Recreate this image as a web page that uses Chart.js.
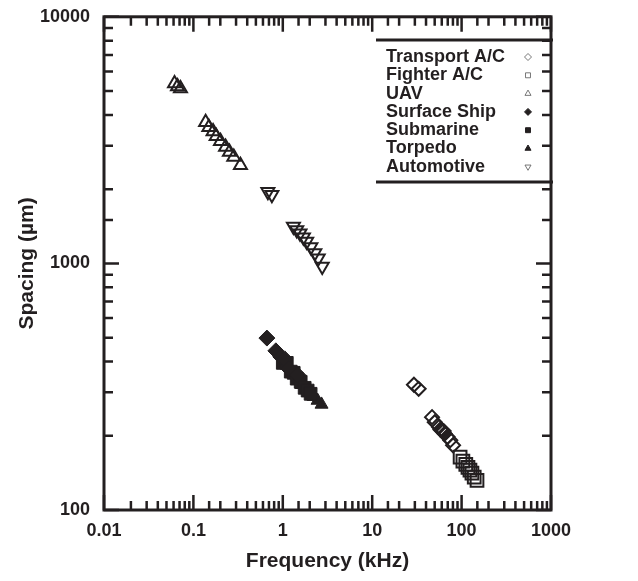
<!DOCTYPE html>
<html>
<head>
<meta charset="utf-8">
<script src="https://cdn.jsdelivr.net/npm/chart.js@4.4.0/dist/chart.umd.js"></script>
<style>
  html, body { margin: 0; padding: 0; background: #fff; }
  #wrap { width: 638px; height: 581px; }
</style>
</head>
<body>
<div id="wrap"><canvas id="chart"></canvas></div>
<script>
// valores (frequência em kHz, espaçamento em µm)
const transportFreq = [29.3, 33.1, 46.7, 50.1, 55.9, 58.0, 60.1, 63.0, 64.7, 69.6, 74.7, 80.3];
const transportSpacing = [322, 310, 238, 227, 217, 212, 210, 209, 204, 198, 192, 183];

const fighterFreq = [96.2, 103.4, 111.4, 117.8, 124, 130.5, 138.4, 148.7];
const fighterSpacing = [164, 158, 153, 149, 145, 141, 136, 132];

const uavFreq = [0.0615, 0.0664, 0.0717, 0.137, 0.149, 0.166, 0.180, 0.201, 0.229, 0.253, 0.283, 0.336];
const uavSpacing = [5367, 5220, 5125, 3740, 3565, 3425, 3280, 3125, 2965, 2830, 2700, 2500];

const shipFreq = [0.664, 0.836, 0.950, 1.052, 1.166, 1.468];
const shipSpacing = [498, 442, 418, 410, 374, 353];

const subFreq = [1.0, 1.108, 1.227, 1.324, 1.431, 1.585, 1.756, 1.896, 2.047];
const subSpacing = [395, 395, 364, 360, 341, 331, 313, 305, 296];

const torpedoFreq = [1.626, 2.21, 2.448, 2.712];
const torpedoSpacing = [322, 288, 278, 268];

const autoFreq = [0.681, 0.755, 1.315, 1.432, 1.557, 1.70, 1.849, 2.06, 2.28, 2.49, 2.76];
const autoSpacing = [1951, 1897, 1410, 1367, 1325, 1276, 1228, 1165, 1102, 1050, 972];

const seriesNames = ['Transport A/C', 'Fighter A/C', 'UAV', 'Surface Ship', 'Submarine', 'Torpedo', 'Automotive'];

const ink = '#231f20';
const fontFamily = '"Liberation Sans", Arial, Helvetica, sans-serif';

function pts(xs, ys) {
    return xs.map((v, i) => ({ x: v, y: ys[i] }));
}

function isDecade(v) {
    const l = Math.log10(v);
    return Math.abs(l - Math.round(l)) < 1e-6;
}

// estilo de cada marcador (aberto / cheio)
function serie(label, xs, ys, style, radius, filled, rotation) {
    return {
        label: label,
        data: pts(xs, ys),
        filled: filled,
        pointStyle: style,
        pointRadius: radius,
        pointRotation: rotation || 0,
        pointBorderWidth: filled ? 1 : 2,
        borderWidth: filled ? 1 : 2,
        borderColor: ink,
        pointBorderColor: ink,
        backgroundColor: filled ? ink : 'rgba(0,0,0,0)',
        pointBackgroundColor: filled ? ink : 'rgba(0,0,0,0)',
        showLine: false
    };
}

// moldura com ticks para dentro nos quatro lados
const framePlugin = {
    id: 'frame',
    beforeDatasetsDraw(chart) {
        const { ctx, chartArea: a, scales: { x, y } } = chart;
        ctx.save();
        ctx.strokeStyle = ink;
        ctx.lineWidth = 2.5;
        ctx.beginPath();
        x.ticks.forEach(t => {
            const px = x.getPixelForValue(t.value);
            const len = isDecade(t.value) ? 15 : 9;
            ctx.moveTo(px, a.bottom); ctx.lineTo(px, a.bottom - len);
            ctx.moveTo(px, a.top); ctx.lineTo(px, a.top + len);
        });
        y.ticks.forEach(t => {
            const py = y.getPixelForValue(t.value);
            const len = isDecade(t.value) ? 15 : 9;
            ctx.moveTo(a.left, py); ctx.lineTo(a.left + len, py);
            ctx.moveTo(a.right, py); ctx.lineTo(a.right - len, py);
        });
        ctx.stroke();
        ctx.lineWidth = 3;
        ctx.strokeRect(a.left, a.top, a.right - a.left, a.bottom - a.top);
        ctx.restore();
    }
};

// legenda dentro da área do gráfico: texto à esquerda, símbolo à direita
const legendPlugin = {
    id: 'boxLegend',
    afterDatasetsDraw(chart) {
        const ctx = chart.ctx;
        const x0 = 376, x1 = 553, yTop = 40, yBottom = 182;
        ctx.save();
        ctx.strokeStyle = ink;
        ctx.lineWidth = 3;
        ctx.beginPath();
        ctx.moveTo(x0, yTop); ctx.lineTo(x1, yTop);
        ctx.moveTo(x0, yBottom); ctx.lineTo(x1, yBottom);
        ctx.stroke();

        ctx.font = 'bold 18px ' + fontFamily;
        ctx.textBaseline = 'middle';
        ctx.textAlign = 'left';
        chart.data.datasets.forEach((ds, i) => {
            const rowY = 57 + i * 18.3;
            ctx.fillStyle = ink;
            ctx.fillText(ds.label, 386, rowY);
            ctx.fillStyle = ds.backgroundColor;
            ctx.strokeStyle = ds.filled ? ink : '#555';
            ctx.lineWidth = ds.filled ? 1 : 0.8;
            Chart.helpers.drawPoint(ctx, {
                pointStyle: ds.pointStyle,
                rotation: ds.pointRotation,
                radius: 3.5,
                borderWidth: ds.filled ? 1 : 0.8
            }, 528, rowY);
        });
        ctx.restore();
    }
};

const tickFont = { family: fontFamily, size: 18, weight: 'bold' };
const titleFont = { family: fontFamily, size: 21, weight: 'bold' };

new Chart(document.getElementById('chart'), {
    type: 'scatter',
    data: {
        datasets: [
            serie(seriesNames[0], transportFreq, transportSpacing, 'rectRot', 7, false),
            serie(seriesNames[1], fighterFreq, fighterSpacing, 'rect', 9, false),
            serie(seriesNames[2], uavFreq, uavSpacing, 'triangle', 7.5, false),
            serie(seriesNames[3], shipFreq, shipSpacing, 'rectRot', 8, true),
            serie(seriesNames[4], subFreq, subSpacing, 'rect', 9, true),
            serie(seriesNames[5], torpedoFreq, torpedoSpacing, 'triangle', 7.5, true),
            serie(seriesNames[6], autoFreq, autoSpacing, 'triangle', 7.5, false, 180)
        ]
    },
    options: {
        responsive: true,
        maintainAspectRatio: false,
        animation: false,
        devicePixelRatio: 1,
        layout: { padding: { top: 14, right: 87, left: 0, bottom: 0 } },
        plugins: {
            legend: { display: false },
            tooltip: { enabled: false }
        },
        scales: {
            x: {
                type: 'logarithmic',
                position: 'bottom',
                min: 0.01,
                max: 1000,
                grid: { display: false },
                border: { display: false },
                ticks: {
                    autoSkip: false,
                    maxRotation: 0,
                    padding: 2,
                    color: ink,
                    font: tickFont,
                    callback: v => isDecade(v) ? String(v) : ''
                },
                title: {
                    display: true,
                    text: 'Frequency (kHz)',
                    color: ink,
                    font: titleFont,
                    padding: { top: 0, bottom: 7 }
                },
                afterFit: s => { s.height = 71; }
            },
            y: {
                type: 'logarithmic',
                position: 'left',
                min: 100,
                max: 10000,
                grid: { display: false },
                border: { display: false },
                ticks: {
                    autoSkip: false,
                    padding: 6,
                    color: ink,
                    font: tickFont,
                    callback: v => isDecade(v) ? String(v) : ''
                },
                title: {
                    display: true,
                    text: 'Spacing (µm)',
                    color: ink,
                    font: titleFont,
                    padding: { top: 15, bottom: 0 }
                },
                afterFit: s => { s.width = 104; }
            }
        }
    },
    plugins: [framePlugin, legendPlugin]
});
</script>
</body>
</html>
